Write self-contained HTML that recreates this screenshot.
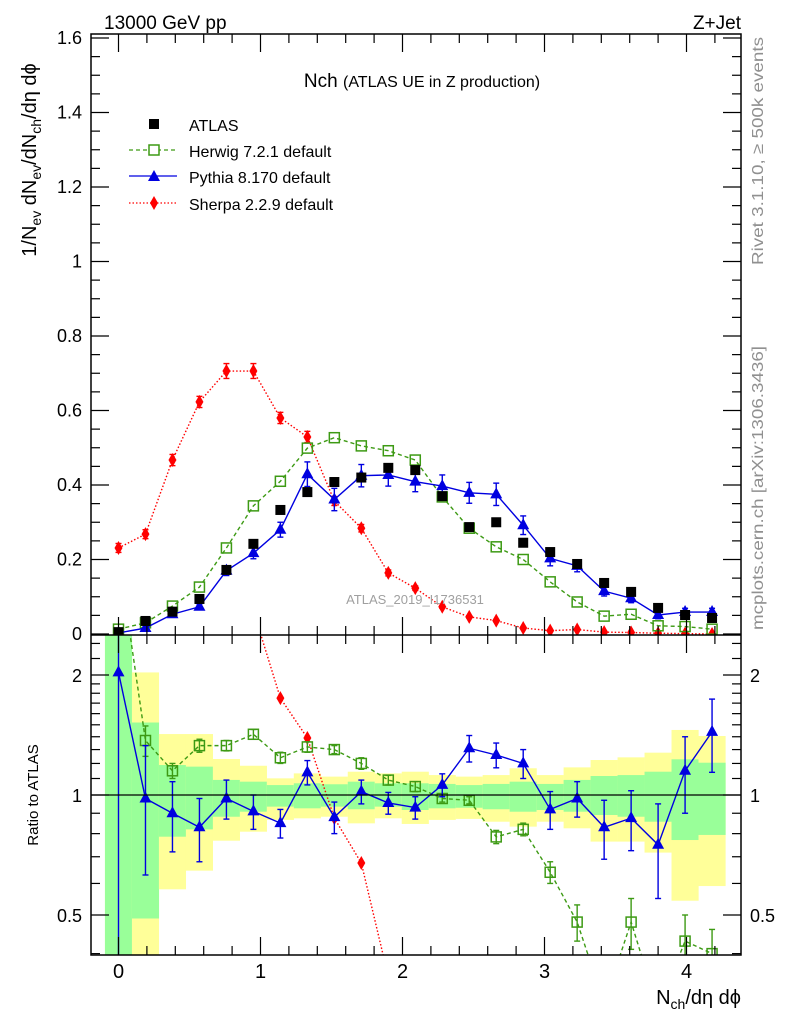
<!DOCTYPE html>
<html><head><meta charset="utf-8"><style>
body{margin:0;background:#fff;overflow:hidden}
svg text{font-family:"Liberation Sans",sans-serif}
</style></head><body>
<svg id="c" width="786" height="1024" viewBox="0 0 786 1024" xmlns="http://www.w3.org/2000/svg" style="display:block">
<defs><clipPath id="rc"><rect x="91" y="635" width="650" height="320"/></clipPath>
<clipPath id="mc"><rect x="91" y="34" width="650" height="601"/></clipPath></defs>
<g id="bands" clip-path="url(#rc)"></g>
<g id="marks"></g>
<g id="axes"></g>
<text x="104" y="29" font-size="19">13000 GeV pp</text>
<text x="741" y="29" font-size="19" text-anchor="end">Z+Jet</text>
<text x="422" y="87" font-size="19" text-anchor="middle">Nch <tspan font-size="16">(ATLAS UE in Z production)</tspan></text>
<text x="415" y="604" font-size="13" fill="#a0a0a0" text-anchor="middle">ATLAS_2019_I1736531</text>
<text transform="translate(763,265) rotate(-90)" font-size="16" fill="#909090" textLength="228" lengthAdjust="spacingAndGlyphs">Rivet 3.1.10, ≥ 500k events</text>
<text transform="translate(763,630) rotate(-90)" font-size="16" fill="#909090" textLength="284" lengthAdjust="spacingAndGlyphs">mcplots.cern.ch [arXiv:1306.3436]</text>
<text transform="translate(36,160) rotate(-90)" font-size="20" text-anchor="middle">1/N<tspan font-size="14" dy="5">ev</tspan><tspan dy="-5"> dN</tspan><tspan font-size="14" dy="5">ev</tspan><tspan dy="-5">/dN</tspan><tspan font-size="14" dy="5">ch</tspan><tspan dy="-5">/dη dϕ</tspan></text>
<text transform="translate(38,795) rotate(-90)" font-size="15" text-anchor="middle">Ratio to ATLAS</text>
<text x="741" y="1004" font-size="20" text-anchor="end">N<tspan font-size="14" dy="5">ch</tspan><tspan dy="-5">/dη dϕ</tspan></text>
<g>
<rect x="149" y="119" width="10" height="10" fill="#000"/>
<text x="189" y="131" font-size="16">ATLAS</text>
<line x1="129" y1="150" x2="177" y2="150" stroke="#3d9a14" stroke-width="1.3" stroke-dasharray="4,3"/>
<rect x="149" y="145" width="10" height="10" fill="#fff" stroke="#3d9a14" stroke-width="1.5"/>
<text x="189" y="157" font-size="16">Herwig 7.2.1 default</text>
<line x1="129" y1="176" x2="177" y2="176" stroke="#0000e0" stroke-width="1.3"/>
<path d="M154,170 L160,181 L148,181 Z" fill="#0000e0"/>
<text x="189" y="183" font-size="16">Pythia 8.170 default</text>
<line x1="129" y1="203" x2="177" y2="203" stroke="#ff0000" stroke-width="1.3" stroke-dasharray="1.5,2"/>
<path d="M154,196 L158,203 L154,210 L150,203 Z" fill="#ff0000"/>
<text x="189" y="210" font-size="16">Sherpa 2.2.9 default</text>
</g>
</svg>
<script>
const xs = [0,0.19,0.38,0.57,0.76,0.95,1.14,1.33,1.52,1.71,1.9,2.09,2.28,2.47,2.66,2.85,3.04,3.23,3.42,3.61,3.8,3.99,4.18];
const atlas = [0.005,0.035,0.06,0.094,0.172,0.242,0.333,0.381,0.408,0.42,0.446,0.44,0.37,0.287,0.30,0.245,0.22,0.188,0.137,0.113,0.07,0.051,0.043];
const herwig = [0.013,0.03,0.075,0.126,0.231,0.344,0.41,0.499,0.527,0.505,0.492,0.467,0.368,0.284,0.234,0.2,0.14,0.086,0.048,0.053,0.022,0.02,0.013];
const pythia = [0.003,0.016,0.053,0.073,0.17,0.217,0.28,0.429,0.361,0.425,0.427,0.409,0.397,0.379,0.375,0.292,0.203,0.183,0.115,0.096,0.051,0.059,0.059];
const pythiaErr = [0.003,0.005,0.006,0.008,0.013,0.015,0.02,0.033,0.03,0.03,0.03,0.027,0.03,0.028,0.03,0.025,0.02,0.016,0.013,0.012,0.01,0.01,0.01];
const sherpa = [0.231,0.268,0.467,0.623,0.706,0.706,0.58,0.529,0.357,0.284,0.164,0.123,0.073,0.046,0.036,0.016,0.009,0.012,0.005,0.004,0.002,0.001,0.0];
const sherpaErr = [0.012,0.012,0.015,0.015,0.02,0.02,0.015,0.015,0.012,0.01,0.008,0.006,0.004,0.003,0.003,0.002,0.002,0.002,0.001,0.001,0.001,0.001,0.001];
const pythiaRatio = [2.03,0.98,0.90,0.83,0.98,0.91,0.85,1.14,0.88,1.02,0.955,0.93,1.06,1.31,1.26,1.20,0.92,0.98,0.83,0.875,0.75,1.15,1.44];
const pythiaRatioErr = [2.0,0.35,0.18,0.15,0.11,0.09,0.07,0.08,0.08,0.07,0.06,0.06,0.07,0.1,0.09,0.1,0.1,0.1,0.14,0.15,0.2,0.25,0.3];
const herwigRatio = [4.0,1.37,1.15,1.33,1.33,1.42,1.24,1.32,1.30,1.20,1.09,1.05,0.98,0.97,0.785,0.82,0.64,0.48,0.30,0.48,0.29,0.43,0.40];
const herwigRatioErr = [0.2,0.12,0.05,0.05,0.04,0.04,0.04,0.04,0.03,0.04,0.03,0.03,0.02,0.02,0.03,0.03,0.04,0.05,0.05,0.07,0.05,0.07,0.06];
const sherpaRatio = [40,7.6,7.8,6.6,4.1,2.9,1.75,1.39,0.875,0.675,0.35,0.28,0.2,0.16,0.12,0.07,0.04,0.06,0.04,0.035,0.03,0.02,0.01];
const yellowHi = [3,2.03,1.422,1.422,1.231,1.184,1.101,1.133,1.112,1.144,1.133,1.144,1.122,1.112,1.122,1.167,1.122,1.173,1.224,1.243,1.277,1.456,1.406];
const greenHi = [3,1.52,1.189,1.178,1.091,1.080,1.059,1.070,1.064,1.080,1.070,1.070,1.066,1.059,1.066,1.080,1.066,1.091,1.116,1.122,1.144,1.229,1.205];
const greenLo = [0.3,0.49,0.786,0.820,0.882,0.908,0.935,0.926,0.935,0.921,0.935,0.917,0.926,0.929,0.921,0.908,0.917,0.908,0.891,0.882,0.857,0.771,0.794];
const yellowLo = [0.3,0.3,0.580,0.646,0.768,0.809,0.866,0.874,0.882,0.849,0.874,0.846,0.866,0.871,0.857,0.833,0.857,0.825,0.764,0.764,0.717,0.543,0.591];
const yTicksMain = ["0","0.2","0.4","0.6","0.8","1","1.2","1.4","1.6"];
const xTicks = ["0","1","2","3","4"];
const rTicks = ["0.5","1","2"];

const NS='http://www.w3.org/2000/svg';
const X0=91,X1=741,MT=34,MB=635,RB=955;
const sx=v=>118.5+v*142;
const sy=v=>634-v*372.5;
const sr=v=>795-Math.log2(v)*120;
function mk(tag,attrs,parent){const e=document.createElementNS(NS,tag);for(const k in attrs)e.setAttribute(k,attrs[k]);document.getElementById(parent).appendChild(e);return e;}

const half=0.0955;
xs.forEach((x,i)=>{
  const xa=Math.max(sx(x-half),X0), xb=sx(x+half);
  let e=mk('rect',{x:xa,y:sr(yellowHi[i]),width:xb-xa,height:sr(yellowLo[i])-sr(yellowHi[i]),fill:'#ffff99'},'bands');
  
  
  e=mk('rect',{x:xa,y:sr(greenHi[i]),width:xb-xa,height:sr(greenLo[i])-sr(greenHi[i]),fill:'#99ff99'},'bands');
  
  
});

mk('rect',{x:X0,y:MT,width:X1-X0,height:RB-MT,fill:'none',stroke:'#000','stroke-width':1.5},'axes');
mk('line',{x1:X0,x2:X1,y1:MB,y2:MB,stroke:'#000','stroke-width':1.5},'axes');
mk('line',{x1:X0,x2:X1,y1:sr(1),y2:sr(1),stroke:'#000','stroke-width':1.2},'axes');
function tick(x1,y1,x2,y2){mk('line',{x1,y1,x2,y2,stroke:'#000','stroke-width':1.2},'axes');}
for(let v=0;v<=1.6001;v+=0.05){const y=sy(v);if(y<MT)continue;const L=(Math.round(v*100)%20===0)?18:9;tick(X0,y,X0+L,y);tick(X1,y,X1-L,y);}
yTicksMain.forEach(t=>{const e=mk('text',{x:82,y:sy(+t)+6,'font-size':18,'text-anchor':'end'},'axes');e.textContent=t;
  
  });
for(let v=-0.2;v<=4.4;v+=0.2){const x=sx(v);if(x<X0||x>X1)continue;const maj=Math.abs(v-Math.round(v))<0.01;const L=maj?18:9;
  tick(x,MT,x,MT+L);tick(x,MB,x,MB-L);tick(x,MB,x,MB+L);tick(x,RB,x,RB-L);}
xTicks.forEach(t=>{const e=mk('text',{x:sx(+t),y:978,'font-size':20,'text-anchor':'middle'},'axes');e.textContent=t;
  
  });
[0.4,0.5,0.6,0.7,0.8,0.9,1,1.1,1.2,1.3,1.4,1.5,1.6,1.7,1.8,1.9,2,2.2,2.4].forEach(v=>{const y=sr(v);if(y>RB)return;const L=(v==0.5||v==1||v==2)?18:9;tick(X0,y,X0+L,y);tick(X1,y,X1-L,y);});
rTicks.forEach(t=>{let e=mk('text',{x:82,y:sr(+t)+7,'font-size':18,'text-anchor':'end'},'axes');e.textContent=t;
  
  
  e=mk('text',{x:750,y:sr(+t)+7,'font-size':18},'axes');e.textContent=t;
  
  });

const gM=document.getElementById('marks');
function group(name,clip){const g=document.createElementNS(NS,'g');g.setAttribute('clip-path',clip);gM.appendChild(g);g.id=name;return name;}
function series(gid,vals,err,fy,color,dash,marker){
  const pts=xs.map((x,i)=>sx(x)+','+fy(vals[i])).join(' ');
  const l=mk('polyline',{points:pts,fill:'none',stroke:color,'stroke-width':1.4,'stroke-dasharray':dash},gid);
  
  
  xs.forEach((x,i)=>{
    const cx=sx(x),cy=fy(vals[i]);
    if(err){const a=fy(vals[i]+err[i]),b=fy(Math.max(vals[i]-err[i],1e-6));
      mk('line',{x1:cx,x2:cx,y1:a,y2:b,stroke:color,'stroke-width':1.4},gid);
      mk('line',{x1:cx-3,x2:cx+3,y1:a,y2:a,stroke:color,'stroke-width':1.4},gid);
      mk('line',{x1:cx-3,x2:cx+3,y1:b,y2:b,stroke:color,'stroke-width':1.4},gid);}
    let m;
    if(marker==='osq') m=mk('rect',{x:cx-5,y:cy-5,width:10,height:10,fill:'none',stroke:color,'stroke-width':1.5},gid);
    else if(marker==='tri') m=mk('path',{d:`M${cx},${cy-7} L${cx+6},${cy+4} L${cx-6},${cy+4} Z`,fill:color},gid);
    else m=mk('path',{d:`M${cx},${cy-7} L${cx+4},${cy} L${cx},${cy+7} L${cx-4},${cy} Z`,fill:color},gid);
    
    
  });
}
group('sherpa','url(#mc)');series('sherpa',sherpa,sherpaErr,sy,'#ff0000','1.5,2','dia');
group('herwig','url(#mc)');series('herwig',herwig,null,sy,'#3d9a14','4,3','osq');
group('pythia','url(#mc)');series('pythia',pythia,pythiaErr,sy,'#0000e0','','tri');
group('atlas','url(#mc)');xs.forEach((x,i)=>{const m=mk('rect',{x:sx(x)-5,y:sy(atlas[i])-5,width:10,height:10,fill:'#000'},'atlas');
  
  });
group('sherpa-ratio','url(#rc)');series('sherpa-ratio',sherpaRatio,null,sr,'#ff0000','1.5,2','dia');
group('herwig-ratio','url(#rc)');series('herwig-ratio',herwigRatio,herwigRatioErr,sr,'#3d9a14','4,3','osq');
group('pythia-ratio','url(#rc)');series('pythia-ratio',pythiaRatio,pythiaRatioErr,sr,'#0000e0','','tri');
</script>
</body></html>
